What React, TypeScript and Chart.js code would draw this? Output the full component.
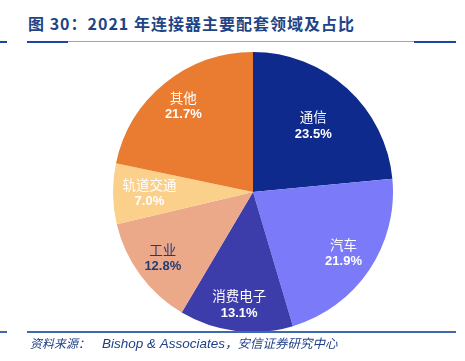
import React, { useEffect, useRef } from "react";
import { Chart, registerables } from "chart.js";

Chart.register(...registerables);

const categories = ["通信", "汽车", "消费电子", "工业", "轨道交通", "其他"];
const shares = [23.5, 21.9, 13.1, 12.8, 7.0, 21.7];
const sliceColors = ["#0e2a8c", "#7b7bf9", "#3d3cab", "#eca98a", "#fbd08a", "#e97c30"];
const labelColors = ["#ffffff", "#ffffff", "#ffffff", "#1f3d7a", "#ffffff", "#ffffff"];
const labelRadius = [0.64, 0.78, 0.81, 0.8, 0.74, 0.79];

const labelPlugin = {
  id: "sliceLabels",
  afterDatasetsDraw(chart: any) {
    const ctx = chart.ctx;
    const meta = chart.getDatasetMeta(0);
    meta.data.forEach((arc: any, i: number) => {
      const { x, y, startAngle, endAngle, outerRadius } = arc.getProps(
        ["x", "y", "startAngle", "endAngle", "outerRadius"],
        true
      );
      const mid = (startAngle + endAngle) / 2;
      const r = outerRadius * labelRadius[i];
      const cx = x + Math.cos(mid) * r;
      const cy = y + Math.sin(mid) * r;
      ctx.save();
      ctx.fillStyle = labelColors[i];
      ctx.textAlign = "center";
      ctx.textBaseline = "middle";
      ctx.font = "13.5px 'Noto Sans CJK SC', sans-serif";
      ctx.fillText(categories[i], cx, cy - 8.5);
      ctx.font = "bold 13px 'Liberation Sans', Arial, sans-serif";
      ctx.fillText(shares[i].toFixed(1) + "%", cx, cy + 8.5);
      ctx.restore();
    });
  },
};

export default function App() {
  const ref = useRef<HTMLCanvasElement>(null);
  useEffect(() => {
    document.body.style.margin = "0";
    const chart = new Chart(ref.current!, {
      type: "pie",
      data: {
        labels: categories,
        datasets: [
          {
            data: shares,
            backgroundColor: sliceColors,
            borderWidth: 0,
          },
        ],
      },
      options: {
        animation: false,
        responsive: false,
        maintainAspectRatio: false,
        layout: { padding: 0 },
        plugins: {
          legend: { display: false },
          tooltip: { enabled: false },
        },
      },
      plugins: [labelPlugin],
    });
    return () => chart.destroy();
  }, []);

  const blue = "#1f3f86";
  return (
    <div style={{ position: "relative", width: 465, height: 361, background: "#fff", overflow: "hidden" }}>
      <div
        style={{
          position: "absolute",
          left: 28,
          top: 12,
          fontFamily: "'Noto Sans CJK SC', sans-serif",
          fontWeight: "bold",
          fontSize: 16,
          letterSpacing: 1.0,
          color: "#1f4486",
          whiteSpace: "nowrap",
          lineHeight: "22px",
        }}
      >
        图 30：2021 年连接器主要配套领域及占比
      </div>
      <div style={{ position: "absolute", left: 0, top: 41, width: 7, height: 2, background: "#1e45a6" }} />
      <div style={{ position: "absolute", left: 27, top: 41, width: 429, height: 1, background: "#8aa6dc" }} />
      <div style={{ position: "absolute", left: 27, top: 41, width: 41, height: 2, background: "#1e45a6" }} />
      <div style={{ position: "absolute", left: 414, top: 41, width: 42, height: 2, background: "#1e45a6" }} />
      <canvas
        ref={ref}
        width={280}
        height={280}
        style={{ position: "absolute", left: 113, top: 52, width: 280, height: 280 }}
      />
      <div style={{ position: "absolute", left: 0, top: 331, width: 7, height: 2, background: "#3f68b0" }} />
      <div style={{ position: "absolute", left: 27, top: 331, width: 429, height: 2, background: "#3f68b0" }} />
      <div
        style={{
          position: "absolute",
          left: 30,
          top: 334,
          fontFamily: "'Noto Sans CJK SC', sans-serif",
          fontStyle: "italic",
          fontSize: 12,
          color: blue,
          whiteSpace: "nowrap",
          lineHeight: "18px",
        }}
      >
        资料来源：
        <span style={{ fontFamily: "'Liberation Sans', Arial, sans-serif", fontSize: 13.5, marginLeft: 12 }}>
          Bishop&nbsp;&amp;&nbsp;Associates
        </span>
        <span style={{ fontSize: 12.5 }}>，安信证券研究中心</span>
      </div>
    </div>
  );
}
